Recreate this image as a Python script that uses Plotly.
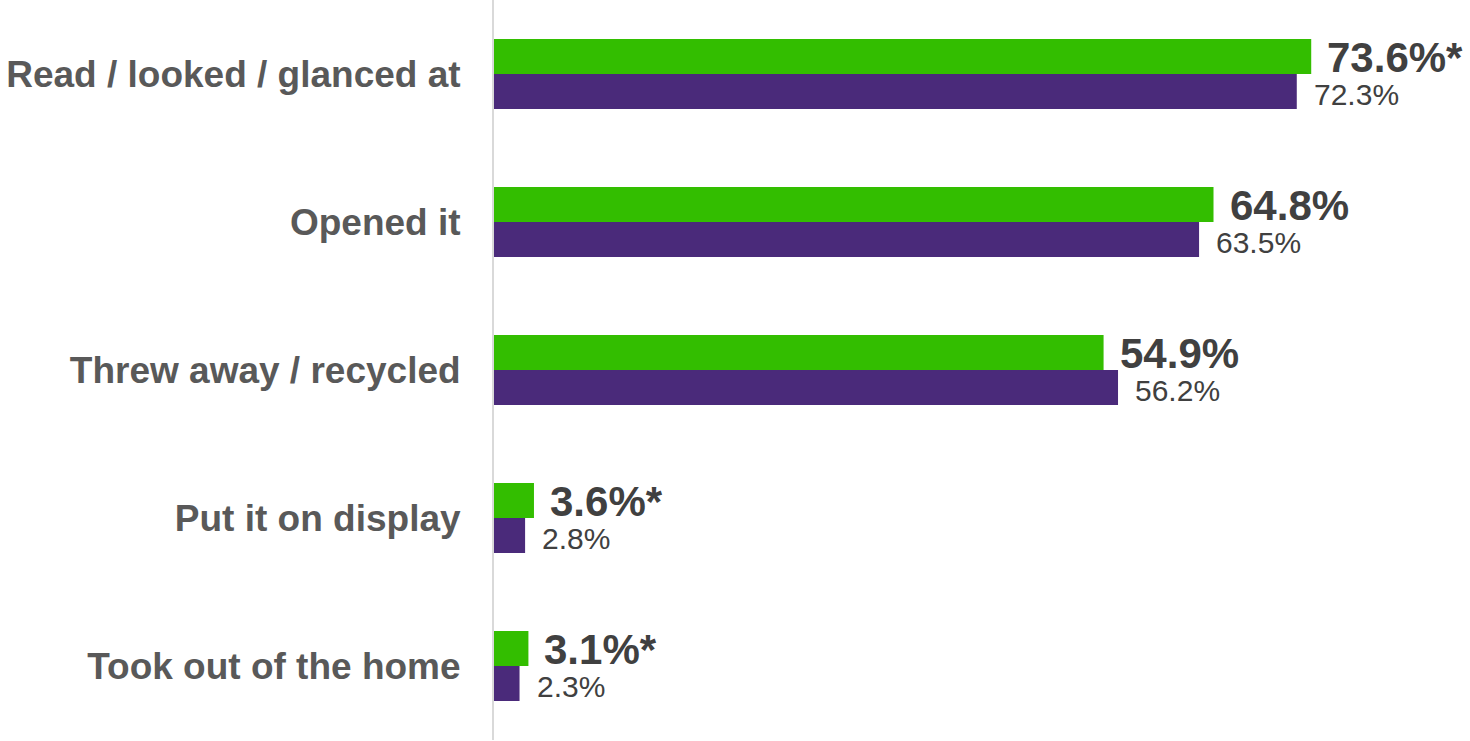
import plotly.graph_objects as go

categories = ["Read / looked / glanced at", "Opened it", "Threw away / recycled",
              "Put it on display", "Took out of the home"]
green_values = [73.6, 64.8, 54.9, 3.6, 3.1]
green_labels = ["73.6%*", "64.8%", "54.9%", "3.6%*", "3.1%*"]
purple_values = [72.3, 63.5, 56.2, 2.8, 2.3]
purple_labels = ["72.3%", "63.5%", "56.2%", "2.8%", "2.3%"]

GREEN = "#33BE00"
PURPLE = "#4A2A7A"
FONT = "Liberation Sans, Arial, sans-serif"

fig = go.Figure()
fig.add_trace(go.Bar(y=categories, x=green_values, orientation="h",
                     marker=dict(color=GREEN, line=dict(width=0)), name="green",
                     hoverinfo="skip"))
fig.add_trace(go.Bar(y=categories, x=purple_values, orientation="h",
                     marker=dict(color=PURPLE, line=dict(width=0)), name="purple",
                     hoverinfo="skip"))

annotations = []
for c, v, t in zip(categories, green_values, green_labels):
    annotations.append(dict(x=v, y=c, xref="x", yref="y", text="<b>%s</b>" % t,
                            showarrow=False, xanchor="left", yanchor="middle",
                            xshift=14, yshift=17,
                            font=dict(family=FONT, size=42, color="#404040")))
for c, v, t in zip(categories, purple_values, purple_labels):
    annotations.append(dict(x=v, y=c, xref="x", yref="y", text=t,
                            showarrow=False, xanchor="left", yanchor="middle",
                            xshift=15, yshift=-20,
                            font=dict(family=FONT, size=30, color="#404040")))

fig.update_layout(
    width=1470, height=741,
    margin=dict(l=494, r=0, t=0, b=1),
    paper_bgcolor="white", plot_bgcolor="white",
    barmode="group", bargap=0.527, bargroupgap=0,
    showlegend=False,
    annotations=annotations,
    xaxis=dict(range=[0, 87.9], visible=False, fixedrange=True),
    yaxis=dict(autorange="reversed", showline=True, linecolor="#D9D9D9", linewidth=2,
               showgrid=False, zeroline=False, ticks="", ticklabelstandoff=24,
               tickfont=dict(family=FONT, size=37, color="#595959", weight="bold")),
)

fig.write_html("out.html")
